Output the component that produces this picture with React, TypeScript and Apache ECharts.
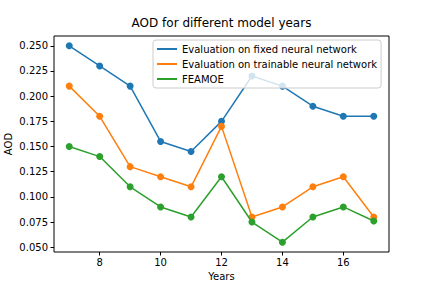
import React, { useEffect, useRef } from "react";
import * as echarts from "echarts";

const years = [7, 8, 9, 10, 11, 12, 13, 14, 15, 16, 17];
const fixedNN = [0.25, 0.23, 0.21, 0.155, 0.145, 0.175, 0.22, 0.21, 0.19, 0.18, 0.18];
const trainableNN = [0.21, 0.18, 0.13, 0.12, 0.11, 0.17, 0.08, 0.09, 0.11, 0.12, 0.08];
const feamoe = [0.15, 0.14, 0.11, 0.09, 0.08, 0.12, 0.075, 0.055, 0.08, 0.09, 0.076];
const xTicks = [8, 10, 12, 14, 16];
const yTicks = [0.05, 0.075, 0.1, 0.125, 0.15, 0.175, 0.2, 0.225, 0.25];
const seriesNames = [
  "Evaluation on fixed neural network",
  "Evaluation on trainable neural network",
  "FEAMOE",
];
const colors = ["#1f77b4", "#ff7f0e", "#2ca02c"];

const FONT = "DejaVu Sans";

export default function App() {
  const ref = useRef<HTMLDivElement>(null);
  useEffect(() => {
    if (!ref.current) return;
    const chart = echarts.init(ref.current, null, { renderer: "svg" });
    const all = [fixedNN, trainableNN, feamoe];
    chart.setOption({
      animation: false,
      backgroundColor: "#fff",
      title: {
        text: "AOD for different model years",
        left: 221.5,
        textAlign: "center",
        top: 17,
        padding: 0,
        textStyle: { fontFamily: FONT, fontSize: 12, fontWeight: "normal", color: "#000" },
      },
      legend: {
        orient: "vertical",
        left: 153,
        top: 40,
        padding: [3, 4, 3, 4],
        itemGap: 3,
        itemWidth: 20,
        itemHeight: 2,
        icon: "rect",
        backgroundColor: "rgba(255,255,255,0.8)",
        borderColor: "#cccccc",
        borderWidth: 1,
        borderRadius: 3,
        textStyle: { fontFamily: FONT, fontSize: 10, color: "#000", lineHeight: 12 },
        data: seriesNames,
      },
      grid: {
        left: 54,
        right: 43,
        top: 36,
        bottom: 36,
        outerBoundsMode: "none",
        containLabel: false,
        show: true,
        borderColor: "#000",
        borderWidth: 1,
        backgroundColor: "transparent",
      },
      xAxis: {
        type: "value",
        min: 6.5,
        max: 17.5,
        name: "Years",
        nameLocation: "middle",
        nameGap: 19,
        nameMoveOverlap: false,
        nameTextStyle: { fontFamily: FONT, fontSize: 10, color: "#000" },
        axisLine: { show: false },
        splitLine: { show: false },
        axisTick: { show: true, length: 3.5, customValues: xTicks, lineStyle: { color: "#000" } },
        axisLabel: {
          customValues: xTicks,
          fontFamily: FONT,
          fontSize: 10,
          color: "#000",
          margin: 5,
        },
      },
      yAxis: {
        type: "value",
        min: 0.04525,
        max: 0.25975,
        name: "AOD",
        nameLocation: "middle",
        nameRotate: 90,
        nameGap: 41,
        nameMoveOverlap: false,
        nameTextStyle: { fontFamily: FONT, fontSize: 10, color: "#000" },
        axisLine: { show: false },
        splitLine: { show: false },
        axisTick: { show: true, length: 3.5, customValues: yTicks, lineStyle: { color: "#000" } },
        axisLabel: {
          customValues: yTicks,
          fontFamily: FONT,
          fontSize: 10,
          color: "#000",
          margin: 6,
          formatter: (v: number) => v.toFixed(3),
        },
      },
      series: seriesNames.map((name, i) => ({
        name,
        type: "line",
        data: years.map((y, j) => [y, all[i][j]]),
        color: colors[i],
        symbol: "circle",
        symbolSize: 7,
        showSymbol: true,
        lineStyle: { width: 1.5, color: colors[i] },
        itemStyle: { color: colors[i] },
        z: 2 + i,
      })),
    });
    return () => chart.dispose();
  }, []);
  return (
    <div
      ref={ref}
      style={{ position: "fixed", left: 0, top: 0, width: 432, height: 288 }}
    />
  );
}
